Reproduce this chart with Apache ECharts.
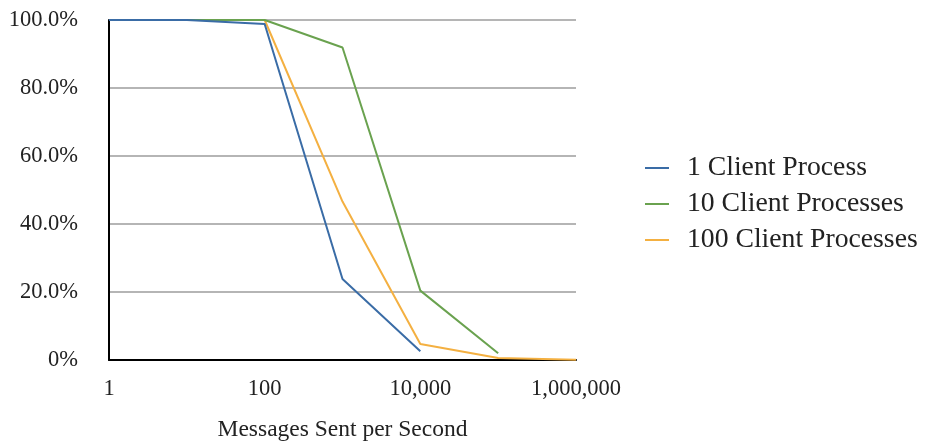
<!DOCTYPE html>
<html>
<head>
<meta charset="utf-8">
<script src="https://cdn.jsdelivr.net/npm/echarts@6/dist/echarts.min.js"></script>
<style>html,body{margin:0;padding:0;background:#fff;}#c{width:925px;height:441px;}</style>
</head>
<body>
<div id="c"></div>
<script>
var rates = [1, 10, 100, 1000, 10000, 100000, 1000000];
var oneClient = [100, 100, 98.8, 23.8, 2.6, null, null];
var tenClients = [100, 100, 100, 91.9, 20.4, 2.0, null];
var hundredClients = [100, 100, 100, 46.6, 4.7, 0.6, 0.1];
var seriesNames = ['1 Client Process', '10 Client Processes', '100 Client Processes'];
var xTickLabels = ['1', '100', '10,000', '1,000,000'];

function pairs(vals) {
  var out = [];
  for (var i = 0; i < rates.length; i++) if (vals[i] != null) out.push([rates[i], vals[i]]);
  return out;
}
var FONT = 'Liberation Serif';
var chart = echarts.init(document.getElementById('c'), null, {renderer: 'canvas'});
chart.setOption({
  backgroundColor: '#fff',
  animation: false,
  grid: {left: 109, right: 349, top: 20, bottom: 81, containLabel: false, outerBoundsMode: 'none'},
  legend: {
    orient: 'vertical', left: 640, top: 149, itemWidth: 24, itemHeight: 14, itemGap: 8,
    data: seriesNames,
    icon: 'path://M0,6 L24,6 L24,8 L0,8 Z',
    textStyle: {fontFamily: FONT, fontSize: 27.7, color: '#222', padding: [0, 0, 0, 13]}
  },
  xAxis: {
    type: 'log', logBase: 10, min: 1, max: 1000000,
    name: 'Messages Sent per Second', nameLocation: 'middle', nameGap: 58,
    nameTextStyle: {fontFamily: FONT, fontSize: 23.5, color: '#222'},
    axisLine: {lineStyle: {color: '#000', width: 2}},
    axisTick: {show: false},
    splitLine: {show: false},
    axisLabel: {
      fontFamily: FONT, fontSize: 22.5, color: '#222', margin: 18,
      formatter: function (v) {
        var e = Math.round(Math.log10(v));
        if (e % 2 !== 0) return '';
        return xTickLabels[e / 2];
      }
    }
  },
  yAxis: {
    type: 'value', min: 0, max: 100, interval: 20,
    axisLine: {show: true, lineStyle: {color: '#000', width: 2}},
    axisTick: {show: false},
    splitLine: {lineStyle: {color: '#b5b5b5', width: 2}},
    axisLabel: {
      fontFamily: FONT, fontSize: 22.5, color: '#222', margin: 31,
      formatter: function (v) { return v === 0 ? '0%' : v.toFixed(1) + '%'; }
    }
  },
  series: [
    {name: seriesNames[2], type: 'line', data: pairs(hundredClients), showSymbol: false, symbol: 'none', lineStyle: {width: 2, color: '#f4b041'}, itemStyle: {color: '#f4b041'}, z: 2},
    {name: seriesNames[1], type: 'line', data: pairs(tenClients), showSymbol: false, symbol: 'none', lineStyle: {width: 2, color: '#6aa24f'}, itemStyle: {color: '#6aa24f'}, z: 3},
    {name: seriesNames[0], type: 'line', data: pairs(oneClient), showSymbol: false, symbol: 'none', lineStyle: {width: 2, color: '#3a6ca6'}, itemStyle: {color: '#3a6ca6'}, z: 4}
  ]
});
</script>
</body>
</html>
